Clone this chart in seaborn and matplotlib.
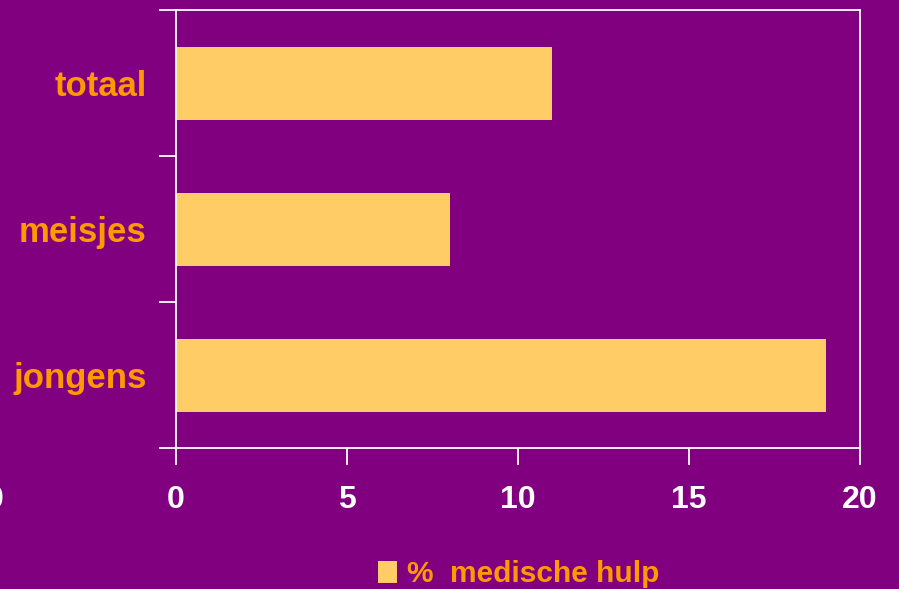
import matplotlib
matplotlib.use("Agg")
import matplotlib.pyplot as plt
import seaborn as sns
import pandas as pd
from matplotlib.patches import Patch
from matplotlib.ticker import FixedLocator

groepen = ["totaal", "meisjes", "jongens"]
medische_hulp = [11, 8, 19]
x_ticks = [0, 5, 10, 15, 20]

PAARS = "#800080"
BALK = "#FFCC66"
ORANJE = "#FF9900"

sns.set_style("white")
plt.rcParams["font.family"] = ["Liberation Sans", "DejaVu Sans"]
plt.rcParams["font.weight"] = "bold"

df = pd.DataFrame({"groep": groepen, "pct": medische_hulp})

fig = plt.figure(figsize=(8.99, 5.89), dpi=100, facecolor=PAARS)
ax = fig.add_axes([176 / 899, 1 - 448 / 589, 684 / 899, 438 / 589])
ax.set_facecolor(PAARS)

sns.barplot(data=df, x="pct", y="groep", order=groepen, color=BALK,
            saturation=1, width=0.5, orient="h", linewidth=0, ax=ax)

ax.set_xlim(0, 20)
ax.set_ylim(2.5, -0.5)
ax.set_xticks(x_ticks)
ax.set_xlabel("")
ax.set_ylabel("")

for s in ax.spines.values():
    s.set_color("white")
    s.set_linewidth(1.3)
    s.set_visible(True)

ax.tick_params(axis="x", colors="white", direction="out", length=12, width=1.3,
               labelsize=23, pad=15, bottom=True)
for lbl in ax.get_xticklabels():
    lbl.set_fontweight("bold")
    lbl.set_color("white")

ax.yaxis.set_minor_locator(FixedLocator([-0.5, 0.5, 1.5, 2.5]))
ax.tick_params(axis="y", which="major", length=0, pad=21, labelsize=25,
               labelcolor=ORANJE)
ax.tick_params(axis="y", which="minor", length=12, width=1.3, color="white",
               direction="out", left=True)
for lbl in ax.get_yticklabels():
    lbl.set_fontweight("bold")

# afgesneden label aan de linkerrand
fig.text(4 / 899, 1 - 500 / 589, "0", color="white", fontsize=23,
         fontweight="bold", ha="right", va="center")

fig.legend(handles=[Patch(facecolor=BALK, edgecolor="none")],
           labels=["%  medische hulp"], loc="center",
           bbox_to_anchor=(519 / 899, 1 - 574 / 589), frameon=False,
           labelcolor=ORANJE, handlelength=0.62, handleheight=0.75,
           handletextpad=0.35, prop={"weight": "bold", "size": 21.5})

fig.savefig("out.png", dpi=100, facecolor=PAARS)
